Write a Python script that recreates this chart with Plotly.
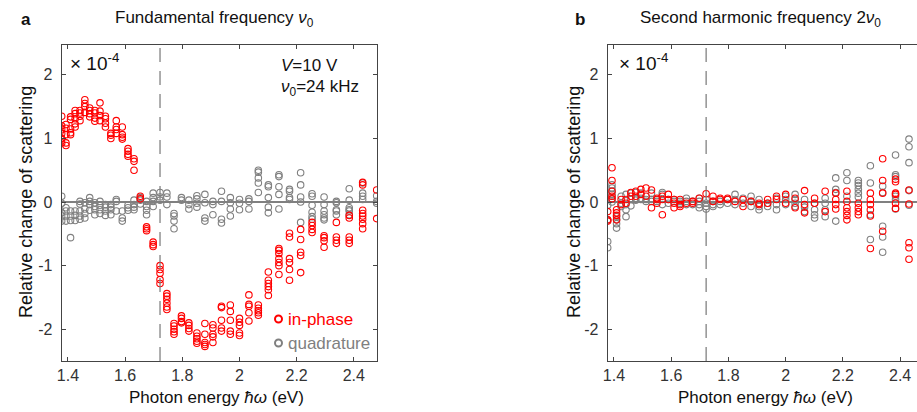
import plotly.graph_objects as go

# Photon energy columns (eV)
energy = [1.378, 1.393, 1.409, 1.425, 1.442, 1.459, 1.476, 1.494, 1.512, 1.531,
          1.550, 1.569, 1.590, 1.610, 1.631, 1.653, 1.675, 1.698, 1.722, 1.746,
          1.771, 1.797, 1.823, 1.851, 1.879, 1.907, 1.937, 1.968, 2.000, 2.033,
          2.066, 2.101, 2.138, 2.175, 2.214, 2.254, 2.296, 2.339, 2.384, 2.431, 2.480]

# Panel a: fundamental frequency (x 1e-4)
a_inphase = [
    [1.35, 1.20, 1.15, 1.08, 1.00, 0.93], [1.22, 1.16, 1.06, 0.93, 0.89],
    [1.34, 1.30, 1.15, 1.09, 1.06], [1.44, 1.39, 1.31, 1.23, 1.18],
    [1.44, 1.40, 1.35, 1.28], [1.61, 1.55, 1.50, 1.41], [1.48, 1.44, 1.39, 1.34],
    [1.44, 1.40, 1.32, 1.27], [1.56, 1.43, 1.36, 1.28], [1.35, 1.31, 1.24, 1.18],
    [1.08, 1.05, 1.00], [1.28, 1.18, 1.14, 1.08], [1.18, 1.06, 1.02, 0.99],
    [0.84, 0.80, 0.75, 0.72], [0.68, 0.64, 0.50], [0.09, 0.05],
    [-0.39, -0.42, -0.45], [-0.63, -0.67, -0.70], [-1.00, -1.06, -1.12, -1.22, -1.28],
    [-1.44, -1.48, -1.53, -1.59, -1.65, -1.69], [-1.91, -1.95, -2.00, -2.04, -2.08],
    [-1.79, -1.83, -1.88, -1.90], [-1.90, -1.94, -1.99, -2.03],
    [-2.06, -2.11, -2.15, -2.19, -2.22], [-1.91, -2.08, -2.21, -2.24, -2.27],
    [-1.93, -1.98, -2.08, -2.12, -2.21], [-1.64, -1.66, -1.86, -1.98, -2.03],
    [-1.62, -1.72, -1.86, -2.03, -2.08], [-1.83, -1.89, -1.94, -2.06, -2.10],
    [-1.46, -1.61, -1.64, -1.74, -1.87], [-1.62, -1.67, -1.71, -1.74, -1.78],
    [-1.10, -1.23, -1.28, -1.33, -1.38, -1.47],
    [-0.73, -0.76, -0.81, -0.89, -0.95, -1.00, -1.14],
    [-0.49, -0.55, -0.89, -0.95, -1.06, -1.23], [-0.43, -0.59, -0.79, -0.84, -1.11],
    [-0.32, -0.37, -0.43, -0.48], [-0.53, -0.56, -0.61, -0.71],
    [-0.32, -0.55, -0.60, -0.65], [-0.21, -0.25, -0.55, -0.60, -0.65],
    [0.31, 0.27, -0.13, -0.18, -0.22, -0.27, -0.34, -0.42], [0.19, -0.26],
]
a_quadrature = [
    [0.09, -0.02, -0.17, -0.22, -0.30], [-0.09, -0.14, -0.22, -0.30],
    [-0.14, -0.22, -0.29, -0.56], [-0.14, -0.21, -0.29],
    [0.01, -0.03, -0.14, -0.22, -0.27], [-0.01, -0.11, -0.18, -0.25],
    [0.07, 0.01, -0.04, -0.13], [-0.01, -0.07, -0.12, -0.20],
    [0.01, -0.05, -0.12, -0.18], [-0.04, -0.08, -0.14, -0.21],
    [-0.04, -0.08, -0.12, -0.20], [0.04, 0.01, -0.14], [-0.14, -0.25, -0.30],
    [-0.05, -0.09, -0.13], [0.03, -0.04, -0.08, -0.12], [0.07, 0.03, -0.03],
    [0.01, -0.07, -0.13, -0.20], [0.14, 0.07, 0.01, -0.07], [0.15, 0.08, 0.03],
    [0.14, 0.08, -0.04], [-0.18, -0.22, -0.30, -0.42], [0.07, 0.03],
    [0.03, -0.04, -0.11], [0.10, 0.05, -0.02, -0.08], [0.12, -0.01, -0.25, -0.30],
    [0.01, -0.04, -0.20], [0.17, 0.01, -0.27, -0.33], [0.07, -0.01, -0.11, -0.22],
    [0.04, -0.02, -0.12], [0.05, 0.01, -0.11], [0.50, 0.47, 0.38, 0.30, 0.15],
    [0.27, 0.24, 0.07, -0.08, -0.17], [0.43, 0.40, 0.24, 0.12, -0.11],
    [0.20, 0.17, 0.07, 0.04], [0.46, 0.27, 0.08, 0.00, -0.32],
    [0.13, 0.09, -0.05, -0.16, -0.23, -0.27], [0.08, -0.04, -0.14, -0.20, -0.25, -0.28],
    [0.01, -0.01, -0.12, -0.14, -0.20], [0.21, 0.03, -0.09, -0.12, -0.14, -0.20],
    [0.30, 0.14, 0.09, 0.04], [0.10, 0.01, -0.02],
]

# Panel b: second harmonic frequency (x 1e-4)
b_inphase = [
    [-0.15, -0.28, -0.30], [0.54, 0.34, 0.17, 0.09, 0.05], [-0.12, -0.17, -0.21, -0.28],
    [0.04, -0.04], [0.04, -0.02], [0.15, 0.09], [0.17, 0.09], [0.20, 0.12],
    [0.22, 0.09], [0.19, -0.09], [0.06, 0.04, -0.02], [0.09, 0.04, -0.20],
    [0.12, 0.04], [0.04, -0.02, -0.09], [0.04, -0.04, -0.07], [-0.02],
    [0.01, -0.02], [0.06], [0.13], [0.09, 0.01], [0.06, 0.04], [0.06, 0.04],
    [0.01], [0.04, -0.07], [0.01], [-0.02, -0.04], [0.04, -0.02], [0.09, 0.04],
    [0.12, -0.02], [0.06, -0.09], [0.18, -0.04, -0.17], [0.06, -0.02],
    [0.17, -0.15], [0.14, 0.04, -0.04, -0.11], [0.17, 0.01, -0.09, -0.15, -0.21, -0.28],
    [-0.02, -0.09, -0.15, -0.20], [0.14, 0.04, -0.04, -0.12, -0.22, -0.73],
    [0.68, 0.34, 0.14, -0.46], [0.36, 0.32, 0.14, 0.12, -0.02, -0.10],
    [0.19, -0.03, -0.64, -0.72, -0.90], [],
]
b_quadrature = [
    [-0.05, -0.28, -0.62, -0.72], [0.27, 0.22, 0.17, 0.12, 0.05, 0.00],
    [-0.23, -0.28, -0.34, -0.41], [0.09, -0.02, -0.07], [0.12, -0.04, -0.12, -0.23],
    [0.14, 0.04, -0.06], [0.15, 0.06, 0.03], [0.14, 0.06, 0.04], [0.04, 0.01],
    [0.14, 0.04, 0.01], [0.04, 0.01], [0.15, 0.12, -0.04], [0.04, -0.02],
    [0.04, 0.01], [0.01, -0.02], [0.06, 0.01, -0.04], [0.01, -0.04],
    [0.06, 0.01, -0.04, -0.09], [0.04, -0.02, -0.07, -0.11], [0.01, -0.04, -0.07],
    [0.01, -0.04], [0.04, -0.02], [0.12, 0.04, -0.04], [0.06, -0.02],
    [0.09, 0.01, -0.07], [0.04, -0.07, -0.12], [-0.02, -0.07], [0.06, -0.04, -0.12],
    [0.09, 0.04, -0.04], [0.12, 0.04, -0.02, -0.07], [0.04, -0.08, -0.15],
    [-0.02, -0.12, -0.20, -0.25], [0.06, -0.02, -0.12, -0.23], [0.38, 0.20, 0.15, -0.30],
    [0.46, 0.34, 0.09], [0.34, 0.30, 0.26, 0.20, 0.14, 0.08], [0.57, 0.30, -0.20, -0.59],
    [0.25, 0.15, -0.38, -0.55, -0.79], [0.74, 0.43, 0.40, 0.09, 0.04, -0.11],
    [0.99, 0.87, 0.62, 0.18, -0.05], [],
]

x_ticks = [1.4, 1.6, 1.8, 2.0, 2.2, 2.4]
x_ticklabels = ["1.4", "1.6", "1.8", "2", "2.2", "2.4"]
y_ticks = [-2, -1, 0, 1, 2]
y_ticklabels = ["-2", "-1", "0", "1", "2"]
band_edge = 1.722

RED = "#ff0000"
GREY = "#808080"
FONT = "Liberation Sans, Arial, sans-serif"
W, H = 917, 412


def flat(cols):
    xs, ys = [], []
    for e, vals in zip(energy, cols):
        for v in vals:
            xs.append(e)
            ys.append(v)
    return xs, ys


fig = go.Figure()
for cols, color, name, xa, ya in [
    (a_quadrature, GREY, "quadrature", "x", "y"),
    (a_inphase, RED, "in-phase", "x", "y"),
    (b_quadrature, GREY, "quadrature", "x2", "y2"),
    (b_inphase, RED, "in-phase", "x2", "y2"),
]:
    xs, ys = flat(cols)
    fig.add_trace(go.Scatter(
        x=xs, y=ys, mode="markers", name=name, xaxis=xa, yaxis=ya,
        showlegend=False, cliponaxis=True,
        marker=dict(symbol="circle-open", size=6.5, color=color,
                    line=dict(width=1.1, color=color)),
    ))


def px(x):
    return x / W


def py(y):
    return 1 - y / H


ydom = [py(361), py(45)]
common_x = dict(tickvals=x_ticks, ticktext=x_ticklabels, ticks="inside", ticklen=4,
                tickwidth=1, tickcolor="#444", showline=True, linecolor="#444",
                linewidth=1.2, showgrid=False, zeroline=False,
                tickfont=dict(family=FONT, size=16, color="#333"))
common_y = dict(tickvals=y_ticks, ticktext=y_ticklabels, ticks="inside", ticklen=4,
                tickwidth=1, tickcolor="#444", showline=True, linecolor="#444",
                linewidth=1.2, showgrid=False, zeroline=True,
                zerolinecolor=GREY, zerolinewidth=1.5, range=[-2.50, 2.47],
                domain=ydom, ticklabelstandoff=5,
                tickfont=dict(family=FONT, size=16, color="#333"))

fig.update_layout(
    width=W, height=H, margin=dict(l=0, r=0, t=0, b=0),
    paper_bgcolor="white", plot_bgcolor="white",
    xaxis=dict(common_x, domain=[px(57), px(374)], range=[1.378, 2.481],
               mirror="ticks", anchor="y"),
    yaxis=dict(common_y, mirror="ticks", anchor="x"),
    xaxis2=dict(common_x, domain=[px(606), 1.0], range=[1.378, 2.459],
                mirror="ticks", anchor="y2"),
    yaxis2=dict(common_y, mirror=False, anchor="x2"),
)

# dashed band-edge markers
for xr, yr in [("x", "y domain"), ("x2", "y2 domain")]:
    fig.add_shape(type="line", xref=xr, yref=yr, x0=band_edge, x1=band_edge,
                  y0=0, y1=1, line=dict(color="#777", width=1.2, dash="14px,9px"))

ann = []


def text(x, y, s, size=16, color="#111", xanchor="center", angle=0):
    ann.append(dict(x=px(x), y=py(y), xref="paper", yref="paper", text=s,
                    showarrow=False, xanchor=xanchor, yanchor="middle",
                    textangle=angle, font=dict(family=FONT, size=size, color=color)))


text(21, 20, "<b>a</b>", 17)
text(211, 19, "Fundamental frequency <i>ν</i><sub>0</sub>", 17)
text(578, 20, "<b>b</b>", 17)
text(760, 19, "Second harmonic frequency 2<i>ν</i><sub>0</sub>", 17)
text(21, 202, "Relative change of scattering", 18, angle=-90)
text(572, 202, "Relative change of scattering", 18, angle=-90)
text(213, 397, "Photon energy <i>ħω</i> (eV)", 17)
text(765, 397, "Photon energy <i>ħω</i> (eV)", 17)
text(63, 62, "× 10<sup>-4</sup>", 19, xanchor="left")
text(615, 62, "× 10<sup>-4</sup>", 19, xanchor="left")
text(276, 65, "<i>V</i>=10 V", 17, xanchor="left")
text(276, 88, "<i>ν</i><sub>0</sub>=24 kHz", 17, xanchor="left")
text(283, 319, "in-phase", 17, color=RED, xanchor="left")
text(283, 343, "quadrature", 17, color=GREY, xanchor="left")
fig.update_layout(annotations=ann)

for yy, col in [(319, RED), (343, GREY)]:
    fig.add_shape(type="circle", xref="paper", yref="paper",
                  xsizemode="pixel", ysizemode="pixel",
                  xanchor=px(275), yanchor=py(yy), x0=-3.5, x1=3.5, y0=-3.5, y1=3.5,
                  line=dict(color=col, width=2))

fig.write_html("out.html")
